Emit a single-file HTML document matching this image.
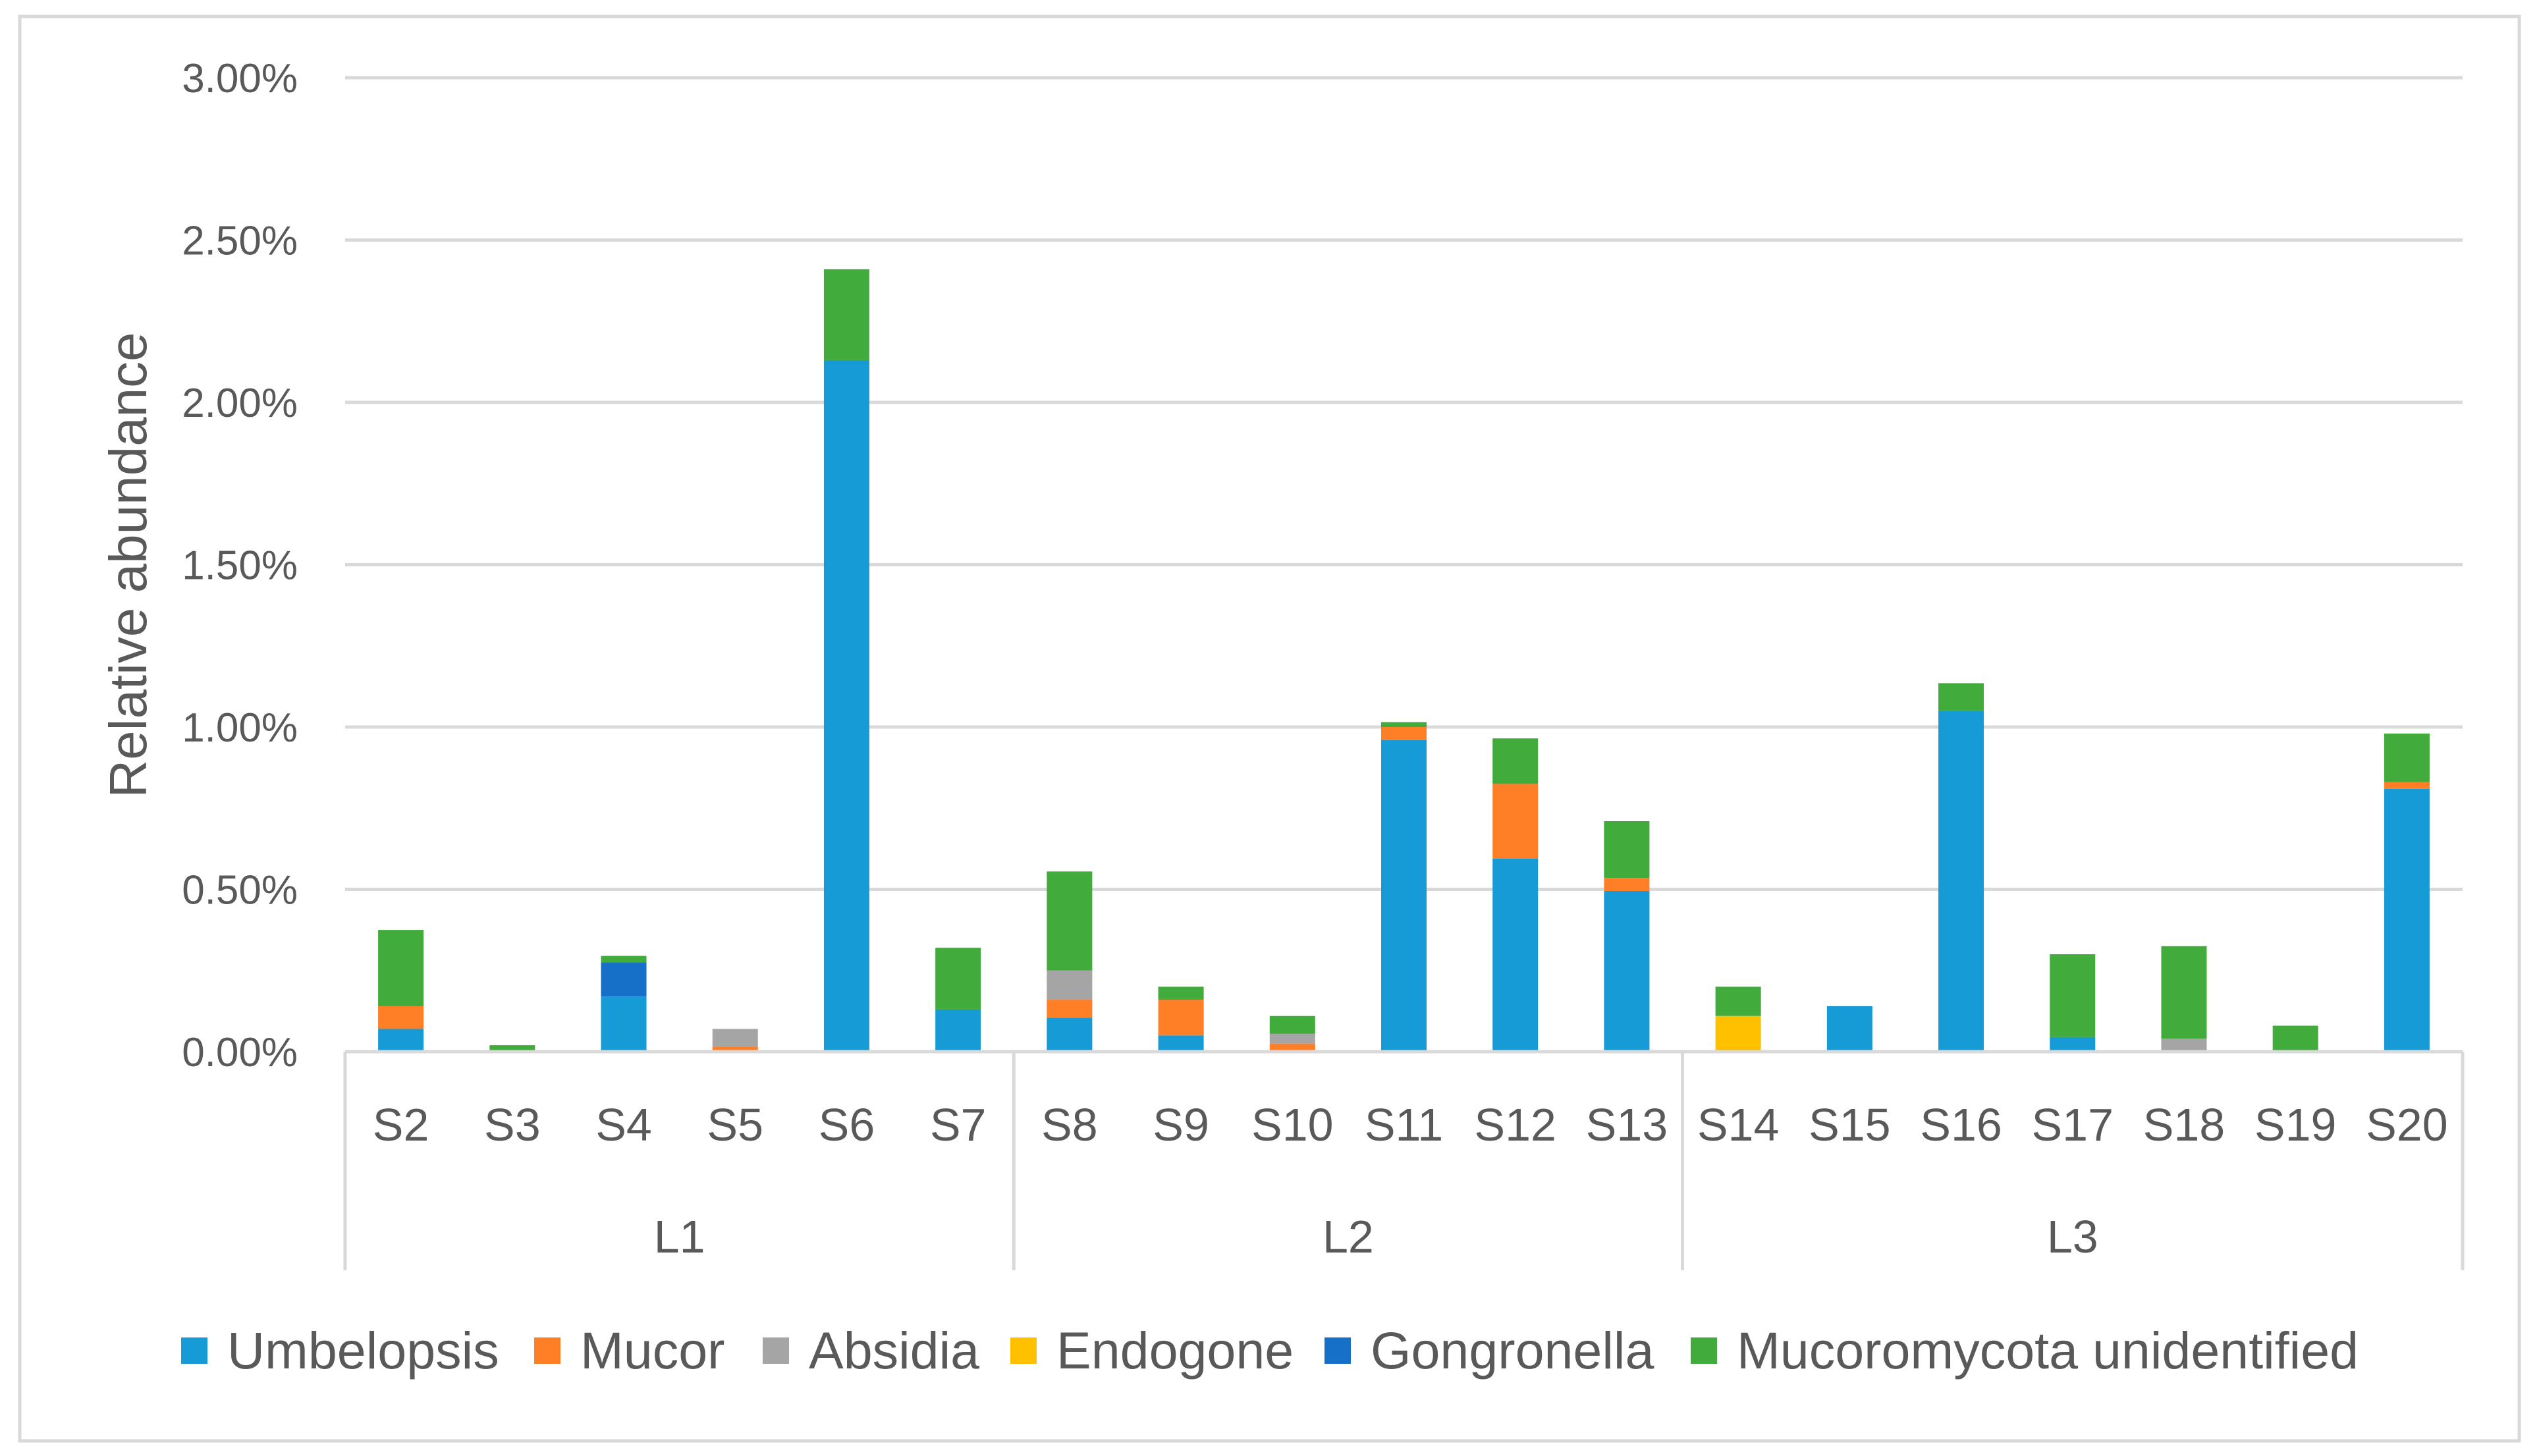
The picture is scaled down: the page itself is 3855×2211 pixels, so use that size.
<!DOCTYPE html>
<html><head><meta charset="utf-8"><style>
html,body{margin:0;padding:0;background:#fff}
svg{display:block;font-family:"Liberation Sans","DejaVu Sans",sans-serif}
</style></head><body>
<svg id="chart" width="3855" height="2211" viewBox="0 0 3855 2211" xmlns="http://www.w3.org/2000/svg">
<rect x="30" y="25" width="3795" height="2163" fill="#fff" stroke="#d9d9d9" stroke-width="5"/>
<g id="grid"></g><g id="bars"></g><g id="axes"></g><g id="legend"></g>
<text x="0" y="0" transform="translate(222,858) rotate(-90)" text-anchor="middle" font-size="80" fill="#595959">Relative abundance</text>
</svg>
<script>
const categories = ["S2","S3","S4","S5","S6","S7","S8","S9","S10","S11","S12","S13","S14","S15","S16","S17","S18","S19","S20"];
const groups = ["L1","L2","L3"];
const groupSizes = [6,6,7];
const seriesNames = ["Umbelopsis","Mucor","Absidia","Endogone","Gongronella","Mucoromycota unidentified"];
const umbelopsis = [0.07,0,0.17,0,2.13,0.13,0.105,0.05,0,0.96,0.595,0.495,0,0.14,1.05,0.045,0,0,0.81];
const mucor      = [0.07,0,0,0.015,0,0,0.055,0.11,0.025,0.04,0.23,0.04,0,0,0,0,0,0,0.02];
const absidia    = [0,0,0,0.055,0,0,0.09,0,0.03,0,0,0,0,0,0,0,0.04,0,0];
const endogone   = [0,0,0,0,0,0,0,0,0,0,0,0,0.11,0,0,0,0,0,0];
const gongronella= [0,0,0.105,0,0,0,0,0,0,0,0,0,0,0,0,0,0,0,0];
const unidentified=[0.235,0.02,0.02,0,0.28,0.19,0.305,0.04,0.055,0.015,0.14,0.175,0.09,0,0.085,0.255,0.285,0.08,0.15];
const yTicks = [0,0.5,1.0,1.5,2.0,2.5,3.0];
const yTickLabels = ["0.00%","0.50%","1.00%","1.50%","2.00%","2.50%","3.00%"];
const colors = ["#179bd7","#ff7f27","#a5a5a5","#ffc000","#1770c8","#41ab3c"];

const NS="http://www.w3.org/2000/svg";
const X0=524,X1=3739,Y0=1597,Y3=118,yMax=3;
const y=v=>Y0-(v/yMax)*(Y0-Y3);
const step=(X1-X0)/categories.length;
const xc=i=>X0+step*(i+0.5);
const barW=69;
function mk(tag,attrs,parent){const e=document.createElementNS(NS,tag);for(const k in attrs)e.setAttribute(k,attrs[k]);parent.appendChild(e);return e;}
const grid=document.getElementById('grid'),bars=document.getElementById('bars'),axes=document.getElementById('axes'),legend=document.getElementById('legend');
yTicks.forEach((t,i)=>{
  if(i>0){const l=mk('line',{x1:X0,x2:X1,y1:y(t),y2:y(t),stroke:'#d9d9d9','stroke-width':5},grid);
  
  }
  const tx=mk('text',{x:452,y:y(t)+22,'text-anchor':'end','font-size':62,fill:'#595959'},axes);
  tx.textContent=yTickLabels[i];
  
  
});
const series=[umbelopsis,mucor,absidia,endogone,gongronella,unidentified];
categories.forEach((c,i)=>{
  let base=0;
  series.forEach((s,k)=>{
    const v=s[i]; if(v<=0)return;
    const r=mk('rect',{x:xc(i)-barW/2,y:y(base+v),width:barW,height:y(base)-y(base+v),fill:colors[k]},bars);
    
    
    base+=v;
  });
  const t=mk('text',{x:xc(i),y:1732,'text-anchor':'middle','font-size':70,fill:'#595959'},axes);
  t.textContent=c;
  
  
});
const ax=mk('line',{x1:X0,x2:X1,y1:Y0,y2:Y0,stroke:'#d9d9d9','stroke-width':5},axes);


let start=0;
const bounds=[0];
groupSizes.forEach(n=>{start+=n;bounds.push(start);});
bounds.forEach(b=>{
  const l=mk('line',{x1:X0+b*step,x2:X0+b*step,y1:Y0,y2:1929,stroke:'#d9d9d9','stroke-width':5},axes);
  
  
});
groups.forEach((g,i)=>{
  const t=mk('text',{x:X0+step*(bounds[i]+bounds[i+1])/2,y:1902,'text-anchor':'middle','font-size':70,fill:'#595959'},axes);
  t.textContent=g;
  
  
});
const legX=[275,811,1158,1534,2011,2567];
seriesNames.forEach((n,i)=>{
  const r=mk('rect',{x:legX[i],y:2031,width:40,height:40,fill:colors[i]},legend);
  
  
  const t=mk('text',{x:legX[i]+70,y:2078,'font-size':79,fill:'#595959'},legend);
  t.textContent=n;
  
  
});
</script>
</body></html>
